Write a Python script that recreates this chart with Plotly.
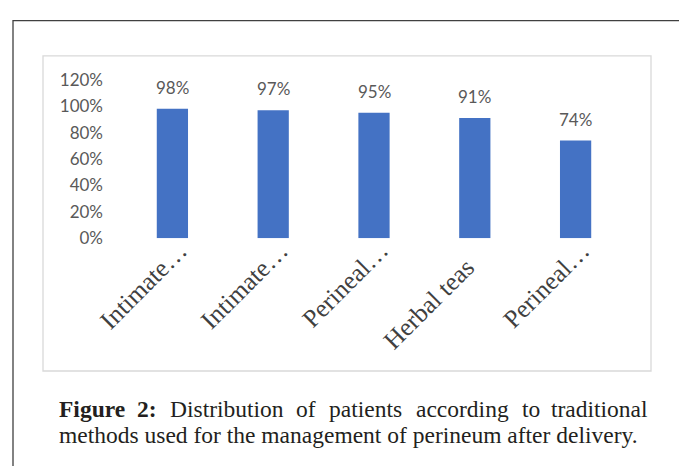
import plotly.graph_objects as go

# ---- data ----
tick_labels = ["Intimate…", "Intimate…", "Perineal…", "Herbal teas", "Perineal…"]
values = [0.98, 0.97, 0.95, 0.91, 0.74]
value_labels = ["98%", "97%", "95%", "91%", "74%"]
y_ticks = [0, 0.2, 0.4, 0.6, 0.8, 1.0, 1.2]
y_tick_text = ["0%", "20%", "40%", "60%", "80%", "100%", "120%"]

caption_line1 = ["<b>Figure</b>", "<b>2:</b>", "Distribution", "of", "patients",
                 "according", "to", "traditional"]
caption_line2 = "methods used for the management of perineum after delivery."

# ---- layout helpers (positions / styles) ----
W, H = 679, 466
def px(x):
    return x / W
def py(y):
    return 1 - y / H

label_xshift = [23, 23, 23, 7, 23]
label_yshift = [5, 5, 5, -12, 5]

# justified first caption line: approximate word widths (em, Times metrics)
cap_size = 23.5
word_em = [2.833, 0.833, 4.83, 0.833, 3.111, 3.943, 0.778, 4.111]
line_left, line_right = 57, 650
widths = [w * cap_size for w in word_em]
gap = (line_right - line_left - sum(widths)) / (len(widths) - 1)
word_left = []
cur = line_left
for w in widths:
    word_left.append(cur)
    cur += w + gap

x_idx = list(range(len(values)))

fig = go.Figure()
fig.add_trace(go.Bar(
    x=x_idx, y=values,
    marker=dict(color="#4472C4", line=dict(width=0)),
    width=0.31,
    hoverinfo="skip",
))

sans = "Lato, Open Sans, sans-serif"
serif = "Liberation Serif, serif"

# data labels
for xi, v, t in zip(x_idx, values, value_labels):
    fig.add_annotation(x=xi, y=v, xref="x", yref="y", text=t, showarrow=False,
                       yanchor="bottom", yshift=9,
                       font=dict(family=sans, size=17, color="#595959"))

# category labels (rotated)
for xi, t, dx, dy in zip(x_idx, tick_labels, label_xshift, label_yshift):
    fig.add_annotation(x=xi, y=0, xref="x", yref="y", text=t, showarrow=False,
                       textangle=-45, xanchor="right", yanchor="top",
                       xshift=dx, yshift=dy,
                       font=dict(family=serif, size=25.5, color="#404040"))

fig.update_layout(
    width=W, height=H,
    margin=dict(l=0, r=0, t=0, b=0),
    paper_bgcolor="white", plot_bgcolor="white",
    showlegend=False,
    xaxis=dict(domain=[px(122), px(626)], range=[-0.5, 4.5],
               showticklabels=False, showgrid=False, zeroline=False,
               showline=False, ticks=""),
    yaxis=dict(domain=[py(238), py(72)], range=[0, 1.2],
               tickmode="array", tickvals=y_ticks, ticktext=y_tick_text,
               showgrid=False, zeroline=False, showline=False, ticks="",
               ticklabelstandoff=18,
               tickfont=dict(family=sans, size=17, color="#595959")),
)

# outer frame and inner chart border
fig.add_shape(type="rect", xref="paper", yref="paper",
              x0=px(13), x1=px(720), y0=py(500), y1=py(10),
              line=dict(color="#404040", width=1.3), layer="below")
fig.add_shape(type="rect", xref="paper", yref="paper",
              x0=px(43), x1=px(651), y0=py(377), y1=py(47),
              line=dict(color="#D9D9D9", width=1.3), layer="below")

# caption
cap_font = dict(family=serif, size=cap_size, color="#231F20")
n = len(caption_line1)
for i, (xl, w, word) in enumerate(zip(word_left, widths, caption_line1)):
    if i == 0:
        xa, xv = "left", xl
    elif i == n - 1:
        xa, xv = "right", line_right
    else:
        xa, xv = "center", xl + w / 2
    fig.add_annotation(x=px(xv), y=py(417), xref="paper", yref="paper", text=word,
                       showarrow=False, xanchor=xa, yanchor="middle", font=cap_font)
fig.add_annotation(x=px(line_left), y=py(444), xref="paper", yref="paper",
                   text=caption_line2, showarrow=False, xanchor="left",
                   yanchor="middle", font=cap_font)

fig.write_html("out.html",
               config={"displayModeBar": False, "staticPlot": True},
               post_script="document.body.style.margin='0';"
                           "document.body.style.overflow='hidden';")
